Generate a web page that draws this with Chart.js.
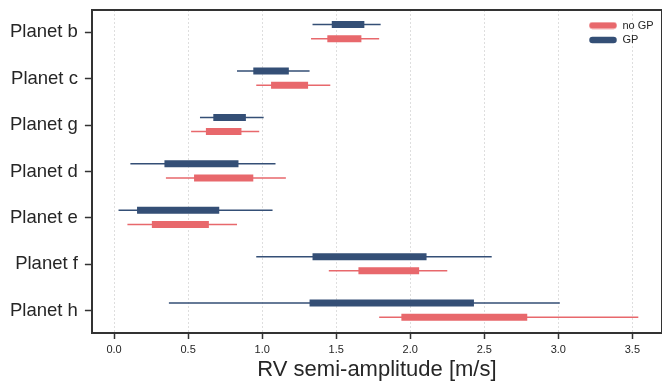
<!DOCTYPE html>
<html>
<head>
<meta charset="utf-8">
<script src="https://cdn.jsdelivr.net/npm/chart.js@4"></script>
<style>
  html, body { margin: 0; padding: 0; background: #fff; }
  #wrap { width: 662px; height: 381px; }
</style>
</head>
<body>
<div id="wrap"><canvas id="myChart"></canvas></div>
<script>
// Planets (top to bottom)
const planets = ['Planet b', 'Planet c', 'Planet g', 'Planet d', 'Planet e', 'Planet f', 'Planet h'];

// GP fit: outer interval (thin) and inner interval (thick), m/s
const gpLow  = [1.34, 0.83, 0.58, 0.11, 0.03, 0.96, 0.37];
const gpQ1   = [1.47, 0.94, 0.67, 0.34, 0.155, 1.34, 1.32];
const gpQ3   = [1.69, 1.18, 0.89, 0.84, 0.71, 2.11, 2.43];
const gpHigh = [1.80, 1.32, 1.01, 1.09, 1.07, 2.55, 3.01];

// no GP fit
const noLow  = [1.33, 0.96, 0.52, 0.35, 0.09, 1.45, 1.79];
const noQ1   = [1.44, 1.06, 0.62, 0.54, 0.255, 1.65, 1.94];
const noQ3   = [1.67, 1.31, 0.86, 0.94, 0.64, 2.06, 2.79];
const noHigh = [1.79, 1.46, 0.98, 1.16, 0.83, 2.25, 3.54];

const xTicks = [0, 0.5, 1.0, 1.5, 2.0, 2.5, 3.0, 3.5];

const gpColor = '#344f76';
const noColor = '#e8686c';
const gpOffset = -0.165;
const noOffset = 0.14;

// build line segments separated by gaps
function segments(lo, hi, offset) {
    const pts = [];
    lo.forEach((v, i) => {
        pts.push({ x: v, y: i + offset });
        pts.push({ x: hi[i], y: i + offset });
        pts.push({ x: null, y: null });
    });
    return pts;
}

// small rounded line used as legend handle
function handle(color) {
    const c = document.createElement('canvas');
    c.width = 28;
    c.height = 8;
    const ctx = c.getContext('2d');
    ctx.strokeStyle = color;
    ctx.lineWidth = 6.5;
    ctx.lineCap = 'round';
    ctx.beginPath();
    ctx.moveTo(3.5, 4);
    ctx.lineTo(24.5, 4);
    ctx.stroke();
    return c;
}

const fontFam = "'Liberation Sans', Arial, sans-serif";
const legendPad = 3.5;

// put the legend inside the plot, top right
const legendInside = {
    id: 'legendInside',
    afterLayout(chart) {
        const lg = chart.legend;
        const area = chart.chartArea;
        const w = lg.width;
        const h = lg.height;
        lg.left = area.right - 73 - legendPad;
        lg.right = lg.left + w;
        lg.top = area.top + 10 - legendPad;
        lg.bottom = lg.top + h;
    }
};

// labels sit well inside the axis range, so no extra room is needed
function noPad(scale) {
    scale.paddingTop = 0;
    scale.paddingBottom = 0;
}

new Chart("myChart", {
    type: "scatter",
    data: {
        datasets: [
            {
                label: "GP thin",
                data: segments(gpLow, gpHigh, gpOffset),
                borderColor: gpColor,
                borderWidth: 1.5,
                showLine: true,
                pointRadius: 0,
                spanGaps: false
            },
            {
                label: "no GP thin",
                data: segments(noLow, noHigh, noOffset),
                borderColor: noColor,
                borderWidth: 1.5,
                showLine: true,
                pointRadius: 0,
                spanGaps: false
            },
            {
                label: "GP",
                data: segments(gpQ1, gpQ3, gpOffset),
                borderColor: gpColor,
                borderWidth: 7,
                showLine: true,
                pointRadius: 0,
                spanGaps: false
            },
            {
                label: "no GP",
                data: segments(noQ1, noQ3, noOffset),
                borderColor: noColor,
                borderWidth: 7,
                showLine: true,
                pointRadius: 0,
                spanGaps: false
            }
        ]
    },
    options: {
        responsive: true,
        maintainAspectRatio: false,
        animation: false,
        layout: { padding: { left: 3, right: 0, top: 10, bottom: 0 } },
        scales: {
            x: {
                type: 'linear',
                min: -0.15,
                max: 3.70,
                afterBuildTicks: axis => { axis.ticks = xTicks.map(v => ({ value: v })); },
                ticks: {
                    callback: v => Number(v).toFixed(1),
                    color: '#262626',
                    font: { family: fontFam, size: 11, lineHeight: 1 },
                    padding: 5
                },
                grid: {
                    color: '#dedede',
                    lineWidth: 1,
                    tickColor: '#333333',
                    tickLength: 6,
                    tickWidth: 1.5
                },
                border: { color: '#333333', width: 2, dash: [2, 2] },
                title: {
                    display: true,
                    text: 'RV semi-amplitude [m/s]',
                    color: '#262626',
                    font: { family: fontFam, size: 22, lineHeight: 1 },
                    padding: { top: -1, bottom: 0 }
                }
            },
            x2: {
                type: 'linear',
                position: 'top',
                min: -0.15,
                max: 3.70,
                ticks: { display: false },
                grid: { display: false, drawTicks: false },
                border: { color: '#333333', width: 2 }
            },
            y: {
                type: 'linear',
                reverse: true,
                min: -0.48,
                max: 6.48,
                afterBuildTicks: axis => { axis.ticks = planets.map((p, i) => ({ value: i })); },
                afterFit: noPad,
                ticks: {
                    callback: v => planets[v],
                    color: '#262626',
                    font: { family: fontFam, size: 18.5, lineHeight: 1 },
                    padding: 7
                },
                grid: {
                    drawOnChartArea: false,
                    tickColor: '#333333',
                    tickLength: 7,
                    tickWidth: 1.5
                },
                border: { color: '#333333', width: 2 }
            },
            y2: {
                type: 'linear',
                position: 'right',
                min: -0.48,
                max: 6.48,
                afterFit: noPad,
                ticks: { display: false },
                grid: { display: false, drawTicks: false },
                border: { color: '#333333', width: 2 }
            }
        },
        plugins: {
            legend: {
                display: true,
                position: 'chartArea',
                align: 'start',
                labels: {
                    font: { family: fontFam, size: 11, lineHeight: 1.2 },
                    color: '#262626',
                    usePointStyle: true,
                    pointStyleWidth: 28,
                    padding: legendPad,
                    generateLabels: () => [
                        { text: 'no GP', fontColor: '#262626', pointStyle: handle(noColor), lineWidth: 0, datasetIndex: 3 },
                        { text: 'GP', fontColor: '#262626', pointStyle: handle(gpColor), lineWidth: 0, datasetIndex: 2 }
                    ]
                }
            },
            tooltip: { enabled: false }
        }
    },
    plugins: [legendInside]
});
</script>
</body>
</html>
